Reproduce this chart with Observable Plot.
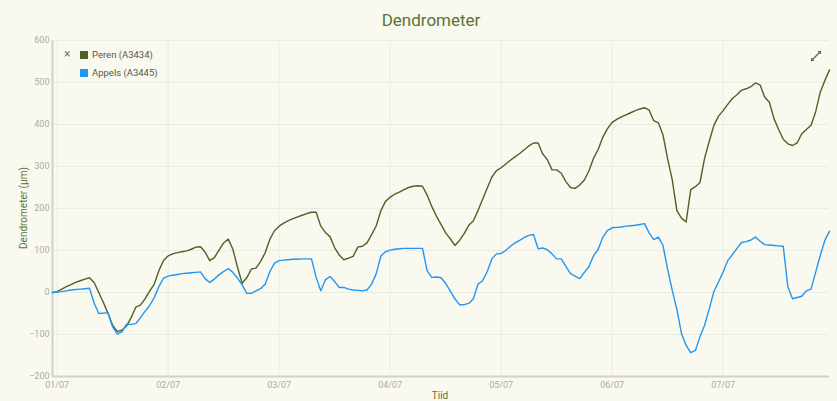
<!DOCTYPE html>
<html><head><meta charset="utf-8">
<script src="https://cdn.jsdelivr.net/npm/d3@7"></script>
<script src="https://cdn.jsdelivr.net/npm/@observablehq/plot@0.6"></script>
<style>
html,body{margin:0;padding:0;background:#f9f9ef;}
#wrap{position:relative;width:837px;height:401px;font-family:Roboto,sans-serif;overflow:hidden;}
#title{position:absolute;left:0;top:10px;width:862px;text-align:center;font-size:17px;color:#5a7434;}
#ylab{position:absolute;left:23px;top:208px;transform:translate(-50%,-50%) rotate(-90deg);font-size:10px;color:#5a7434;white-space:nowrap;}
#xlab{position:absolute;left:440px;top:390px;transform:translateX(-50%);font-size:10px;color:#5a7434;}
#legend{position:absolute;left:63px;top:49px;font-size:9.5px;color:#555;}
#legend .row{position:relative;height:18px;line-height:12px;}
#legend .sw{position:absolute;left:17px;top:2px;width:8px;height:8px;}
#legend .tx{position:absolute;left:29px;top:0;white-space:nowrap;}
#legend .x{position:absolute;left:1px;top:-1px;color:#777;font-size:12px;}
#icon{position:absolute;left:810px;top:50px;}
</style></head>
<body>
<div id="wrap">
  <div id="chart"></div>
  <div id="title">Dendrometer</div>
  <div id="ylab">Dendrometer (µm)</div>
  <div id="xlab">Tiid</div>
  <div id="legend"></div>
  <svg id="icon" width="12" height="12" viewBox="0 0 12 12"><path d="M2.5 9.5 L9.5 2.5" stroke="#556b2f" stroke-width="1.3"/><path d="M1 11 L1 7.5 L4.5 11 Z M11 1 L7.5 1 L11 4.5 Z" fill="#556b2f"/></svg>
</div>
<script>
const seriesNames = ["Peren (A3434)", "Appels (A3445)"];
const seriesColors = ["#4e6127", "#2196f3"];
const startHour = -1; // hours relative to 01/07 00:00, one reading per hour
const peren = [
  0, 2, 8, 14, 19, 24, 28, 32, 35, 24,
  0, -24, -50, -78, -93, -90, -80, -60, -35, -30,
  -15, 3, 20, 52, 76, 87, 92, 95, 97, 99,
  103, 108, 109, 96, 76, 83, 101, 118, 127, 103,
  60, 22, 35, 56, 58, 74, 95, 127, 147, 158,
  165, 171, 176, 180, 184, 188, 191, 191, 158, 143,
  133, 107, 89, 78, 82, 86, 108, 110, 118, 138,
  159, 195, 217, 227, 234, 239, 245, 250, 253, 254,
  253, 232, 205, 182, 162, 142, 128, 112, 124, 140,
  160, 171, 195, 222, 249, 275, 290, 297, 306, 315,
  323, 331, 340, 349, 356, 356, 330, 316, 292, 292,
  284, 264, 250, 248, 256, 268, 290, 320, 341, 370,
  390, 405, 412, 418, 423, 428, 433, 437, 440, 434,
  409, 404, 375, 318, 268, 195, 177, 168, 245, 252,
  262, 320, 360, 398, 420, 433, 448, 462, 471, 482,
  485, 490, 499, 494, 465, 453, 414, 388, 365, 354,
  350, 356, 378, 388, 398, 430, 477, 505, 530
];
const appels = [
  0, 1, 2, 4, 6, 7, 8, 9, 10, -25,
  -50, -49, -48, -82, -99, -94, -76, -76, -74, -60,
  -45, -31, -12, 14, 34, 39, 41, 43, 45, 46,
  47, 48, 49, 33, 24, 32, 42, 50, 57, 48,
  34, 18, -2, -2, 4, 9, 20, 50, 70, 76,
  77, 78, 79, 79, 80, 80, 80, 36, 4, 30,
  38, 26, 12, 12, 8, 6, 5, 4, 6, 20,
  45, 87, 97, 101, 103, 104, 105, 105, 105, 105,
  105, 52, 36, 37, 35, 22, 4, -15, -29, -29,
  -26, -15, 20, 28, 50, 80, 92, 93, 100, 110,
  118, 124, 131, 136, 138, 104, 106, 102, 92, 80,
  80, 62, 45, 39, 33, 48, 62, 88, 103, 132,
  148, 154, 155, 156, 158, 159, 160, 162, 164, 142,
  126, 132, 112, 55, 5, -40, -98, -126, -143, -138,
  -105, -78, -39, 2, 25, 49, 76, 90, 105, 119,
  121, 125, 132, 122, 114, 113, 112, 111, 110, 13,
  -15, -12, -9, 4, 8, 48, 88, 124, 146
];
const dayLabels = ["01/07","02/07","03/07","04/07","05/07","06/07","07/07"];
const yTicks = [-200, -100, 0, 100, 200, 300, 400, 500, 600];

const base = Date.UTC(2023, 6, 1);
const H = 3600e3;
const toDate = h => new Date(base + h * H);
const rows = [];
[peren, appels].forEach((arr, k) => arr.forEach((v, i) => rows.push({t: toDate(startHour + i), v, s: seriesNames[k]})));
const dayTicks = dayLabels.map((_, i) => toDate(i * 24));
const xDomain = [toDate(-1), toDate(167)];

const chart = Plot.plot({
  width: 837, height: 401,
  marginTop: 40, marginBottom: 25, marginLeft: 52, marginRight: 8,
  style: {background: "transparent", fontFamily: "Roboto, sans-serif", fontSize: "9px", color: "#aaa", overflow: "visible"},
  x: {type: "utc", domain: xDomain},
  y: {domain: [-200, 600]},
  color: {domain: seriesNames, range: seriesColors},
  marks: [
    Plot.gridX(dayTicks, {stroke: "#ebebdf", strokeOpacity: 1}),
    Plot.gridY(yTicks, {stroke: "#ebebdf", strokeOpacity: 1}),
    Plot.axisX(dayTicks, {tickSize: 0, tickPadding: 5, tickFormat: (d, i) => dayLabels[i], label: null, fill: "#aaa"}),
    Plot.axisY(yTicks, {tickSize: 0, tickPadding: 3, label: null, fill: "#aaa"}),
    Plot.ruleX([xDomain[0]], {stroke: "#d2d2c6", strokeWidth: 2}),
    Plot.ruleY([-200], {stroke: "#d2d2c6", strokeWidth: 2}),
    Plot.line(rows, {x: "t", y: "v", z: "s", stroke: "s", strokeWidth: 1.4})
  ]
});
document.getElementById("chart").appendChild(chart);

const leg = document.getElementById("legend");
seriesNames.forEach((n, i) => {
  const r = document.createElement("div");
  r.className = "row";
  r.innerHTML = (i === 0 ? '<span class="x">×</span>' : '') +
    `<span class="sw" style="background:${seriesColors[i]}"></span><span class="tx">${n}</span>`;
  leg.appendChild(r);
});
</script>
</body></html>
